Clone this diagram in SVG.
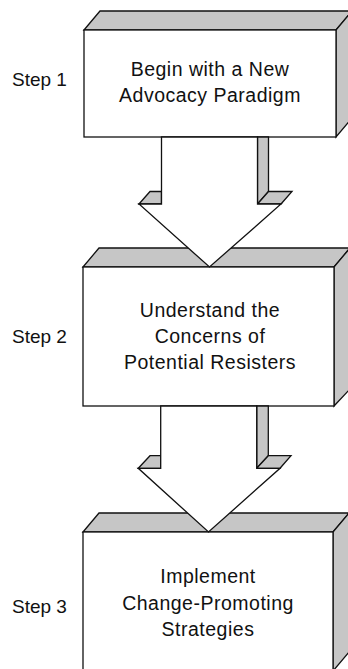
<svg xmlns="http://www.w3.org/2000/svg" width="348" height="669" viewBox="0 0 348 669">
<style>
.f{fill:#ffffff;stroke:#111;stroke-width:1.3;stroke-linejoin:miter}
.g{fill:#c6c6c6;stroke:#111;stroke-width:1.3;stroke-linejoin:miter}
.t{font-family:"Liberation Sans",Arial,Helvetica,sans-serif;font-size:19.5px;fill:#111;text-anchor:middle;letter-spacing:0.5px}
.s{font-family:"Liberation Sans",Arial,Helvetica,sans-serif;font-size:19px;fill:#111}
</style>
<rect width="348" height="669" fill="#ffffff"/>
<g id="step1">
<polygon class="g" points="84,30 100,11 352,11 336,30"/>
<polygon class="g" points="336,30 352,11 352,118 336,137"/>
<rect class="f" x="84" y="30" width="252" height="107"/>
<text class="t" x="210" y="76">Begin with a New</text>
<text class="t" x="210" y="102">Advocacy Paradigm</text>
<text class="s" x="12" y="86">Step 1</text>
</g>
<g id="step2">
<polygon class="g" points="83,267 99,248 350,248 334,267"/>
<polygon class="g" points="334,267 350,248 350,389 334,406"/>
<rect class="f" x="83" y="267" width="251" height="139"/>
<text class="t" x="210" y="317">Understand the</text>
<text class="t" x="210" y="343">Concerns of</text>
<text class="t" x="210" y="369">Potential Resisters</text>
<text class="s" x="12" y="343">Step 2</text>
</g>
<g id="step3">
<polygon class="g" points="83,532 99,513 349,513 333,532"/>
<polygon class="g" points="333,532 349,513 349,652 333,671"/>
<rect class="f" x="83" y="532" width="250" height="139"/>
<text class="t" x="208" y="583">Implement</text>
<text class="t" x="208" y="610">Change-Promoting</text>
<text class="t" x="208" y="636">Strategies</text>
<text class="s" x="12" y="613">Step 3</text>
</g>
<g id="connectors">
<g id="arrow1">
<polygon class="g" points="257.5,137 268.5,137 268.5,191.5 257.5,204"/>
<polygon class="g" points="139,204 150,191.5 161.5,191.5 161.5,204"/>
<polygon class="g" points="257.5,204 268.5,191.5 292,191.5 281,204"/>
<polygon class="f" points="161.5,137 257.5,137 257.5,204 281,204 209.5,267 139,204 161.5,204"/>
</g>
<g id="arrow2">
<polygon class="g" points="256.7,406 268.3,406 268.3,455.7 256.7,468.3"/>
<polygon class="g" points="138.3,468.3 150,455.7 160.7,455.7 160.7,468.3"/>
<polygon class="g" points="256.7,468.3 268.3,455.7 291,455.7 280,468.3"/>
<polygon class="f" points="160.7,406 256.7,406 256.7,468.3 280,468.3 208.5,532 138.3,468.3 160.7,468.3"/>
</g>
</g>
</svg>
